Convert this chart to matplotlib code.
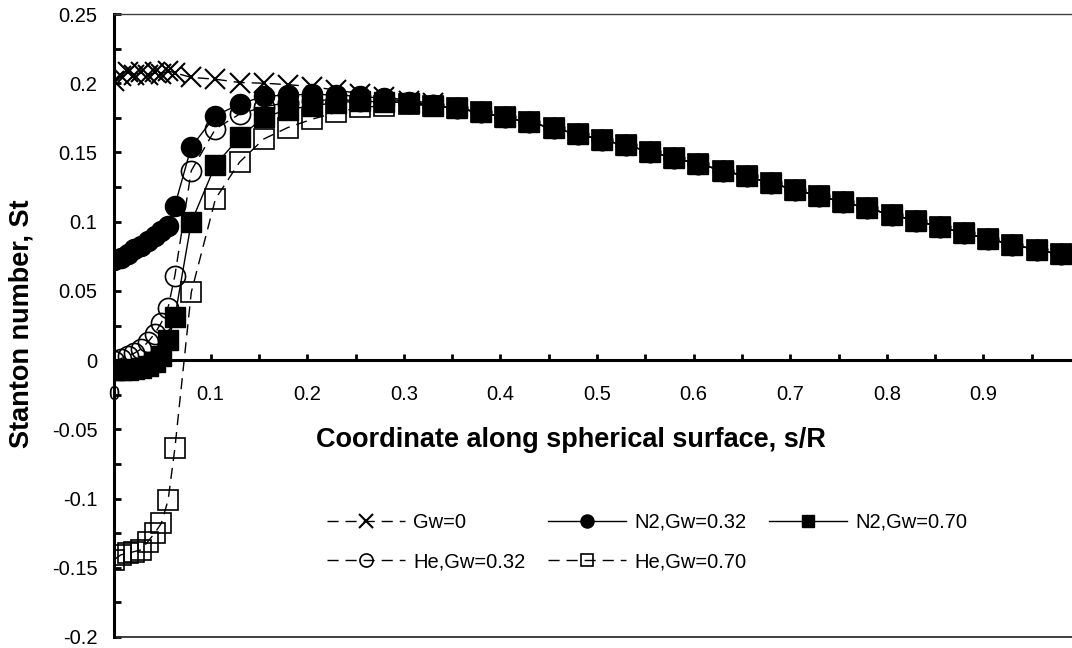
import matplotlib
matplotlib.use("Agg")
import matplotlib.pyplot as plt
from matplotlib.ticker import MultipleLocator, FuncFormatter

plt.rcParams['font.family'] = ['Liberation Sans', 'DejaVu Sans']
plt.rcParams['axes.unicode_minus'] = False

# s/R positions: fine mesh near the stagnation point, then the regular mesh
x_dense = [0.0, 0.007, 0.014, 0.021, 0.028, 0.035, 0.042, 0.049, 0.056, 0.063]
x_head = [0.08, 0.105, 0.13, 0.155, 0.18, 0.205, 0.23, 0.255, 0.28, 0.305, 0.33]
x_tail = [0.355, 0.38, 0.405, 0.43, 0.455, 0.48, 0.505, 0.53, 0.555, 0.58,
          0.605, 0.63, 0.655, 0.68, 0.705, 0.73, 0.755, 0.78, 0.805, 0.83,
          0.855, 0.88, 0.905, 0.93, 0.955, 0.98]

# downstream part where all five curves coincide
st_tail = [0.1818, 0.1789, 0.1753, 0.1717, 0.1674, 0.1633, 0.159, 0.1552, 0.1505, 0.1458,
           0.1419, 0.1368, 0.1328, 0.1277, 0.1232, 0.1184, 0.1141, 0.1097, 0.1049, 0.1008,
           0.0962, 0.0917, 0.0876, 0.0835, 0.0797, 0.0763]

st_gw0 = [0.2017, 0.2053, 0.2078, 0.2062, 0.2078, 0.2056, 0.2078, 0.2064, 0.2089, 0.2075,
          0.2042, 0.2029, 0.2005, 0.2, 0.199, 0.1975, 0.195, 0.1925, 0.19, 0.1875, 0.1855]
st_n2_032 = [0.072, 0.0735, 0.0765, 0.080, 0.0825, 0.086, 0.0895, 0.0935, 0.097, 0.1116,
             0.154, 0.1765, 0.185, 0.1905, 0.1915, 0.192, 0.1915, 0.1905, 0.189, 0.1866, 0.1845]
st_n2_070 = [-0.007, -0.0075, -0.007, -0.0065, -0.0055, -0.004, -0.0013, 0.003, 0.0143, 0.031,
             0.0996, 0.141, 0.161, 0.1753, 0.181, 0.1837, 0.186, 0.187, 0.1865, 0.186, 0.1835]
st_he_032 = [-0.001, 0.001, 0.003, 0.005, 0.008, 0.013, 0.019, 0.027, 0.038, 0.061,
             0.1368, 0.167, 0.1777, 0.183, 0.186, 0.1875, 0.188, 0.1875, 0.187, 0.186, 0.184]
st_he_070 = [-0.1443, -0.1407, -0.1395, -0.1383, -0.1371, -0.1311, -0.1251, -0.1179, -0.1011, -0.0638,
             0.049, 0.1164, 0.143, 0.1597, 0.168, 0.174, 0.179, 0.1825, 0.1837, 0.185, 0.1835]

etiquetas = ["Gw=0", "N2,Gw=0.32", "N2,Gw=0.70", "He,Gw=0.32", "He,Gw=0.70"]

s_R = x_dense + x_head + x_tail
DASH = (0, (8, 5))

fig = plt.figure(figsize=(10.72, 6.48), dpi=100)
ax = fig.add_axes([114 / 1072, 11 / 648, 958 / 1072, 623 / 648])

h_he070, = ax.plot(s_R, st_he_070 + st_tail, ls=DASH, lw=1.0, color='black',
                   marker='s', ms=14, mfc='none', mec='black', mew=1.2, zorder=3)
h_he032, = ax.plot(s_R, st_he_032 + st_tail, ls=DASH, lw=1.0, color='black',
                   marker='o', ms=14.5, mfc='none', mec='black', mew=1.2, zorder=3.1)
h_n2070, = ax.plot(s_R, st_n2_070 + st_tail, ls='-', lw=1.0, color='black',
                   marker='s', ms=14, mfc='black', mec='black', zorder=3.2)
h_n2032, = ax.plot(s_R, st_n2_032 + st_tail, ls='-', lw=1.0, color='black',
                   marker='o', ms=14.5, mfc='black', mec='black', zorder=3.3)
h_gw0, = ax.plot(s_R, st_gw0 + st_tail, ls=DASH, lw=1.0, color='black',
                 marker='x', ms=15, mew=1.5, zorder=3.4)

ax.set_xlim(0, 0.9917)
ax.set_ylim(-0.2, 0.25)

ax.spines['right'].set_visible(False)
ax.spines['bottom'].set_position(('data', 0))
ax.spines['bottom'].set_linewidth(2.2)
ax.spines['left'].set_linewidth(2.2)
ax.spines['top'].set_linewidth(1.0)
ax.spines['top'].set_color('#404040')
ax.axhline(-0.2, color='#303030', lw=1.3, clip_on=False, zorder=2)

ax.xaxis.set_major_locator(MultipleLocator(0.1))
ax.xaxis.set_minor_locator(MultipleLocator(0.05))
ax.yaxis.set_major_locator(MultipleLocator(0.05))
ax.yaxis.set_minor_locator(MultipleLocator(0.025))
fmt = FuncFormatter(lambda v, p: '{:g}'.format(round(v, 3)))
ax.xaxis.set_major_formatter(fmt)
ax.yaxis.set_major_formatter(fmt)

ax.tick_params(axis='x', which='both', direction='in', length=4, width=2,
               labelsize=14.5, pad=18, top=False)
ax.tick_params(axis='y', which='both', direction='in', length=5, width=2,
               labelsize=14.5, pad=12, right=False)

ax.text(0.477, 0.3045, "Coordinate along spherical surface, s/R", transform=ax.transAxes,
        ha='center', va='baseline', fontsize=19.5, fontweight='bold')
ax.text(-0.0963, 0.503, "Stanton number, St", transform=ax.transAxes, rotation=90,
        ha='center', va='center', fontsize=19.5, fontweight='bold')

handles = [h_gw0, h_he032, h_n2032, h_he070, h_n2070]
labels = [etiquetas[0], etiquetas[3], etiquetas[1], etiquetas[4], etiquetas[2]]
ax.legend(handles, labels, ncol=3, loc='upper left',
          bbox_to_anchor=(326.7 / 1072, 1 - 513 / 648), bbox_transform=fig.transFigure,
          frameon=False, fontsize=14.5, handlelength=3.9, handletextpad=0.4,
          columnspacing=1.1, labelspacing=1.0, markerscale=0.65,
          borderpad=0, borderaxespad=0, numpoints=1)

fig.savefig("out.png", dpi=100)
